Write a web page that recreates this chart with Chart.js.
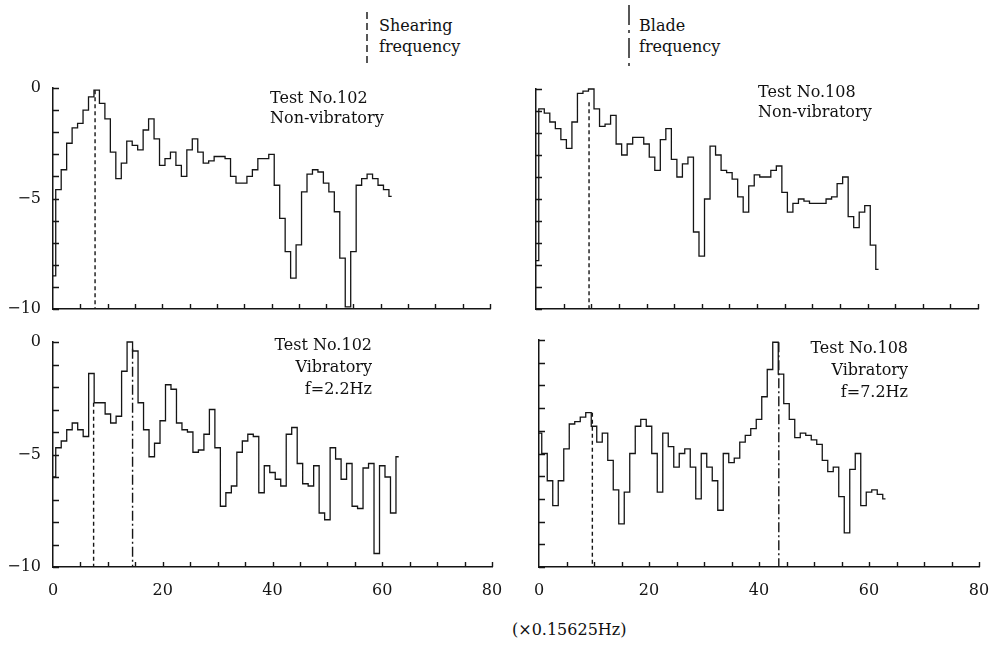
<!DOCTYPE html>
<html>
<head>
<meta charset="utf-8">
<script src="https://cdn.jsdelivr.net/npm/chart.js@4.4.0/dist/chart.umd.min.js"></script>
<style>
  html, body { margin: 0; padding: 0; background: #fff; }
  body { width: 993px; height: 645px; position: relative; overflow: hidden;
         font-family: 'DejaVu Serif', serif; color: #111; }
  canvas { position: absolute; }
  .txt { position: absolute; font-size: 16px; line-height: 20px; white-space: nowrap; }
  .right { text-align: right; line-height: 22px; }
</style>
</head>
<body>

<!-- legend for the two marker lines -->
<svg width="993" height="80" style="position:absolute;left:0;top:0">
  <line x1="367" y1="12" x2="367" y2="63" stroke="#111" stroke-width="1.4" stroke-dasharray="7 4"/>
  <line x1="629" y1="5" x2="629" y2="68" stroke="#111" stroke-width="1.4" stroke-dasharray="20 5 3 5"/>
</svg>
<div class="txt" style="left:379px;top:15px;line-height:21px">Shearing<br>frequency</div>
<div class="txt" style="left:639px;top:15px;line-height:21px">Blade<br>frequency</div>

<canvas id="tl" width="500" height="240" style="left:0;top:78px"></canvas>
<canvas id="tr" width="493" height="240" style="left:500px;top:78px"></canvas>
<canvas id="bl" width="510" height="280" style="left:0;top:330px"></canvas>
<canvas id="br" width="493" height="282" style="left:500px;top:328px"></canvas>

<div class="txt" style="left:270px;top:88px">Test No.102<br>Non-vibratory</div>
<div class="txt" style="left:758px;top:82px">Test No.108<br>Non-vibratory</div>
<div class="txt right" style="right:621px;top:334px">Test No.102<br>Vibratory<br>f=2.2Hz</div>
<div class="txt right" style="right:85px;top:337px">Test No.108<br>Vibratory<br>f=7.2Hz</div>

<div class="txt" style="left:512px;top:620px">(×0.15625Hz)</div>

<script>
// frequency bins (x 0.15625 Hz)
const bins = [0, 1, 2, 3, 4, 5, 6, 7, 8, 9, 10, 11, 12, 13, 14, 15, 16, 17, 18, 19,
  20, 21, 22, 23, 24, 25, 26, 27, 28, 29, 30, 31, 32, 33, 34, 35, 36, 37, 38, 39,
  40, 41, 42, 43, 44, 45, 46, 47, 48, 49, 50, 51, 52, 53, 54, 55, 56, 57, 58, 59,
  60, 61, 62, 63];

// spectra
const test102NonVib = [-8.5, -4.6, -3.7, -2.5, -1.8, -1.6, -1.0, -0.4, -0.1, -0.7,
  -1.4, -2.9, -4.1, -3.4, -2.4, -2.6, -2.8, -1.9, -1.4, -2.3,
  -3.5, -3.2, -2.9, -3.5, -4.0, -2.8, -2.3, -2.9, -3.4, -3.3,
  -3.1, -3.1, -3.2, -4.0, -4.3, -4.3, -4.0, -3.7, -3.2, -3.2,
  -3.0, -4.4, -5.9, -7.4, -8.6, -7.1, -4.7, -3.9, -3.7, -3.8,
  -4.3, -4.7, -5.6, -7.7, -9.9, -7.4, -4.4, -4.1, -3.9, -4.1,
  -4.4, -4.6, -4.9];

const test108NonVib = [-7.8, -0.9, -1.1, -1.5, -1.8, -2.3, -2.7, -1.5, -0.2, -0.1,
  0, -0.9, -1.7, -1.6, -1.2, -2.5, -3.0, -2.5, -2.2, -2.2,
  -2.5, -3.1, -3.7, -2.3, -1.8, -3.2, -4.0, -3.4, -3.1, -6.5,
  -7.6, -5.0, -2.6, -3.0, -3.7, -3.8, -4.1, -4.9, -5.6, -4.4,
  -3.9, -4.0, -4.0, -3.7, -3.5, -4.7, -5.6, -5.2, -5.0, -5.1,
  -5.2, -5.2, -5.2, -5.0, -4.9, -4.3, -4.0, -5.8, -6.3, -5.6,
  -5.3, -7.1, -8.2];

const test102Vib = [-6.0, -4.7, -4.4, -3.9, -3.6, -3.9, -4.2, -1.4, -2.7, -2.7,
  -3.2, -3.6, -3.3, -1.3, 0, -0.4, -2.7, -3.9, -5.1, -4.5,
  -3.5, -1.9, -2.1, -3.6, -3.9, -4.0, -4.9, -4.8, -4.1, -3.0,
  -4.7, -7.3, -6.7, -6.4, -4.9, -4.4, -4.1, -4.2, -6.7, -5.5,
  -5.8, -6.1, -6.4, -4.1, -3.8, -5.4, -6.3, -6.4, -5.5, -7.6,
  -7.9, -4.7, -5.2, -6.1, -5.4, -7.3, -7.4, -5.6, -5.4, -9.4,
  -5.5, -6.0, -7.6, -5.1];

const test108Vib = [-4.1, -5.0, -6.2, -7.3, -6.2, -4.8, -3.7, -3.6, -3.4, -3.2,
  -3.8, -4.5, -4.1, -5.3, -6.6, -8.1, -6.7, -5.0, -3.8, -3.5,
  -3.8, -5.0, -6.7, -4.1, -4.7, -5.6, -5.0, -4.8, -5.6, -7.0,
  -5.0, -5.6, -6.2, -7.5, -5.0, -5.4, -5.2, -4.5, -4.2, -3.9,
  -3.5, -2.5, -1.3, -0.1, -1.5, -2.8, -3.5, -4.3, -4.1, -4.2,
  -4.4, -4.6, -5.3, -5.8, -5.6, -6.9, -8.5, -5.7, -5.0, -7.3,
  -6.7, -6.6, -6.8, -7.0];

// shearing / blade frequency markers: [bin, level where the line starts]
const shearTL = [7.7, -0.1];
const shearTR = [9.6, -0.6];
const shearBL = [7.4, -2.7];
const bladeBL = [14.5, -0.3];
const shearBR = [9.7, -3.2];
const bladeBR = [43.6, -0.1];

const ink = '#151515';
const dashShear = [4, 3];
const dashBlade = [10, 3, 2, 3];

Chart.defaults.font.family = "'DejaVu Serif', serif";
Chart.defaults.font.size = 16;
Chart.defaults.color = ink;

// short tick marks drawn on the inside of the axes
const innerTicks = {
  id: 'innerTicks',
  afterDraw(chart) {
    const { ctx, chartArea, scales: { x, y } } = chart;
    ctx.save();
    ctx.strokeStyle = ink;
    ctx.lineWidth = 1.4;
    ctx.beginPath();
    x.ticks.forEach(t => {
      if (t.value === 0) return;
      const px = Math.round(x.getPixelForValue(t.value)) + 0.5;
      ctx.moveTo(px, chartArea.bottom);
      ctx.lineTo(px, chartArea.bottom - 5);
    });
    y.ticks.forEach(t => {
      const py = Math.round(y.getPixelForValue(t.value)) + 0.5;
      ctx.moveTo(chartArea.left, py);
      ctx.lineTo(chartArea.left + 6, py);
    });
    ctx.stroke();
    ctx.restore();
  }
};

function markLine(m, dash) {
  return {
    data: [{ x: m[0], y: m[1] }, { x: m[0], y: -10 }],
    borderColor: ink, borderWidth: 1.4, borderDash: dash, pointRadius: 0
  };
}

function buildPanel(id, values, marks, showY, showX, axisW, axisH, pad) {
  const datasets = [{
    data: values.map((v, i) => ({ x: bins[i], y: v })),
    stepped: 'middle', borderColor: ink, borderWidth: 1.3, pointRadius: 0, clip: 4
  }].concat(marks);

  return new Chart(document.getElementById(id), {
    type: 'line',
    data: { datasets },
    options: {
      responsive: false, animation: false, events: [],
      layout: { padding: pad },
      plugins: { legend: { display: false }, tooltip: { enabled: false } },
      scales: {
        x: {
          type: 'linear', min: 0, max: 80,
          grid: { display: false, drawTicks: false },
          border: { color: ink, width: 1.5 },
          ticks: { display: showX, stepSize: 5, autoSkip: false, maxRotation: 0, padding: 14,
                   callback: v => (v % 20 === 0 ? v : '') },
          // keep the plot edges where the figure has them; labels may overhang
          afterFit: s => { s.height = axisH; s.paddingLeft = 0; s.paddingRight = 0; }
        },
        y: {
          min: -10, max: 0,
          grid: { display: false, drawTicks: false },
          border: { color: ink, width: 1.5 },
          ticks: { display: showY, stepSize: 1, autoSkip: false, padding: 12,
                   callback: v => (v % 5 === 0 ? (v < 0 ? '\u2212' + Math.abs(v) : '0') : '') },
          afterFit: s => { s.width = axisW; s.paddingTop = 0; s.paddingBottom = 0; }
        }
      }
    },
    plugins: [innerTicks]
  });
}

buildPanel('tl', test102NonVib, [markLine(shearTL, dashShear)], true, false, 53, 9,
  { top: 10, right: 10 });
buildPanel('tr', test108NonVib, [markLine(shearTR, dashShear)], false, false, 36, 9,
  { top: 11, right: 15 });
buildPanel('bl', test102Vib, [markLine(shearBL, dashShear), markLine(bladeBL, dashBlade)], true, true, 53, 43,
  { top: 12, right: 18 });
buildPanel('br', test108Vib, [markLine(shearBR, dashShear), markLine(bladeBR, dashBlade)], false, true, 39, 43,
  { top: 12, right: 14 });
</script>
</body>
</html>
